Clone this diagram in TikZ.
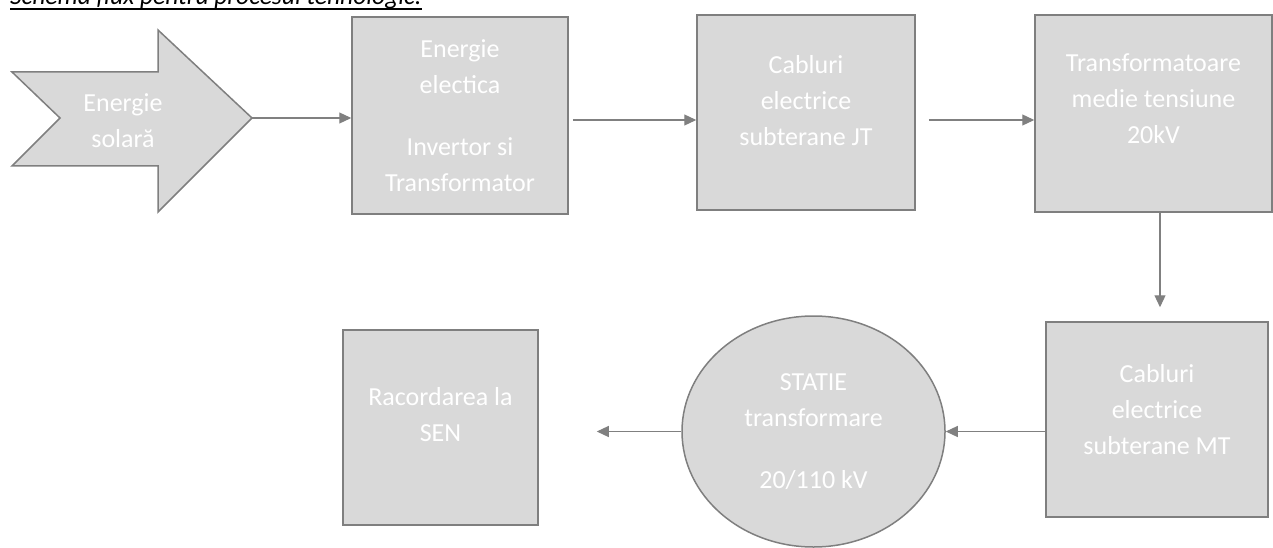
\documentclass[tikz,border=0pt]{standalone}
\usepackage{fontspec}
\setmainfont{Carlito}
\usetikzlibrary{arrows.meta,shapes.geometric}
\definecolor{boxfill}{HTML}{D9D9D9}
\definecolor{boxline}{HTML}{7F7F7F}
\definecolor{arrowcol}{HTML}{808080}
\tikzset{
  stepbox/.style={draw=boxline, fill=boxfill, line width=1.5pt, inner sep=0pt, minimum width=#1},
  txt/.style={text=white, align=center, font=\fontsize{26}{36}\selectfont, inner sep=0pt},
  conn/.style={draw=arrowcol, line width=1.2pt, -{Triangle[length=12pt,width=11pt]}},
}
\begin{document}
\begin{tikzpicture}[x=1pt,y=-1pt]
\useasboundingbox (0,0) rectangle (1273,548);
% title (cut off at the top edge, as in the reference)
\node[anchor=base west, inner sep=0pt, font=\itshape\fontsize{25.5}{30}\selectfont] (title) at (10,5) {Schema flux pentru procesul tehnologic:};
\draw[line width=1.5pt] (title.base west) ++(0,4) -- (title.base east |- 0,9);
% chevron arrow
\coordinate (soltip) at (252,118);
\draw[draw=boxline, fill=boxfill, line width=1.5pt, line join=miter]
  (12,72) -- (158,72) -- (158,30) -- (soltip) -- (158,212) -- (158,166) -- (12,166) -- (60,118) -- cycle;
\node[txt] (sol) at (123,121) {Energie\\solară};
% boxes
\node[stepbox=216pt, minimum height=197pt] (b1) at (460,115.5) {};
\node[txt] (t1) at (b1.center) {Energie\\electica\\[26pt]Invertor si\\Transformator};
\node[stepbox=218pt, minimum height=195pt] (b2) at (806,112.5) {};
\node[txt, yshift=12pt] (t2) at (b2.center) {Cabluri\\electrice\\subterane JT};
\node[stepbox=237pt, minimum height=197pt] (b3) at (1153.5,113.5) {};
\node[txt, yshift=15pt] (t3) at (b3.center) {Transformatoare\\medie tensiune\\20kV};
\node[stepbox=222pt, minimum height=195pt] (b4) at (1157,419.5) {};
\node[txt, yshift=10pt] (t4) at (b4.center) {Cabluri\\electrice\\subterane MT};
\node[draw=boxline, fill=boxfill, line width=1.5pt, ellipse, inner sep=0pt, minimum width=263pt, minimum height=231pt] (st) at (813.5,431.5) {};
\node[txt] (t6) at (st.center) {STATIE\\transformare\\[26pt]20/110 kV};
\node[stepbox=195pt, minimum height=195pt] (b5) at (440.5,427.5) {};
\node[txt, yshift=13pt] (t5) at (b5.center) {Racordarea la\\SEN};
% connectors
\draw[conn] (soltip) -- (b1.west |- soltip);
\draw[conn, shorten <=4pt] (b1.east |- 0,120) -- (b2.west |- 0,120);
\draw[conn, shorten <=13pt] (b2.east |- 0,120) -- (b3.west |- 0,120);
\draw[conn, shorten >=14pt] (b3.south -| 1160,0) -- (b4.north -| 1160,0);
\draw[conn] (b4.west |- st.east) -- (st.east);
\draw[conn, shorten >=58pt] (st.west) -- (b5.east |- st.west);
\end{tikzpicture}
\end{document}
